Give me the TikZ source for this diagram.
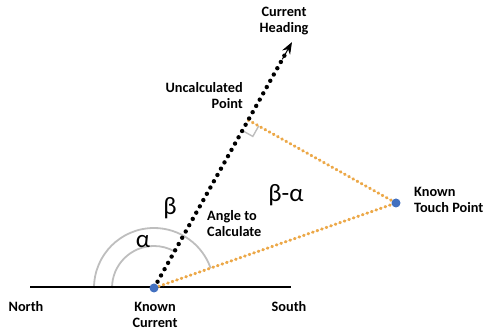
\documentclass[tikz,border=0pt]{standalone}
\usepackage{fontspec}
\setmainfont{Carlito}
\usepackage{tikz}
\usetikzlibrary{arrows.meta,positioning,calc}
\usepackage{xcolor}
\definecolor{dotorange}{RGB}{236,168,72}
\definecolor{ptblue}{RGB}{66,112,192}
\definecolor{arcgray}{RGB}{190,190,190}
\tikzset{
  lbl/.style     = {font=\fontsize{14.3}{16}\selectfont\bfseries, align=center, inner sep=1pt},
  greek/.style   = {font=\fontsize{25}{28}\selectfont, inner sep=0pt},
  hdline/.style  = {line width=4.4pt, line cap=round, dash pattern=on 0pt off 7.2pt},
  tchline/.style = {dotorange, line width=3pt, line cap=round, dash pattern=on 0.8pt off 4pt},
  arcline/.style = {arcgray, line width=1.8pt},
  ptdot/.style   = {fill=ptblue, circle, inner sep=0pt, minimum size=9pt},
}

\begin{document}
\begin{tikzpicture}[x=1pt, y=1pt]
\useasboundingbox (0,0) rectangle (483,336);
% ---------------- points ----------------
\coordinate (cur) at (154,48);
\coordinate (hd)  at ($(cur)+(60.7:282)$);
\coordinate (tp)  at (396,133);
\coordinate (up)  at ($(cur)!(tp)!(hd)$);
\coordinate (nw)  at (30,49);
\coordinate (se)  at (291,49);
% ---------------- angle arcs ----------------
\draw[arcline] ($(cur)+(-60,0)$) arc[start angle=180, end angle=19.4, radius=60];
\draw[arcline] ($(cur)+(-42,0)$) arc[start angle=180, end angle=60.7, radius=42];
% right angle mark
\draw[arcline, line width=1.4pt] ($(up)!12pt!(cur)$) -- ($(up)!12pt!(cur)!12pt!90:(cur)$)
   -- ($(up)!12pt!(tp)$);
% ---------------- lines ----------------
\draw[line width=2.8pt] (nw) -- (se);
\draw[tchline] (cur) -- (tp);
\draw[tchline] (up) -- (tp);
\draw[hdline] (cur) -- ($(cur)!0.96!(hd)$);
\draw[-{Stealth[length=12pt,width=9pt]}, line width=1pt] ($(cur)!0.93!(hd)$) -- (hd);
\node[ptdot] at (cur) {};
\node[ptdot] at (tp) {};
% ---------------- labels ----------------
\node[lbl] (hdlbl) at (284,315) {Current\\Heading};
\node[lbl, align=right, anchor=east] (uplbl) at (244,240) {Uncalculated\\Point};
\node[lbl, align=left, anchor=west] (anglbl) at (206,112) {Angle to\\Calculate};
\node[lbl, align=left, anchor=west] (tplbl) at (413,136) {Known\\Touch Point};
\node[lbl] (curlbl) at (155,21) {Known\\Current};
\node[lbl] (nlbl) at (26,29) {North};
\node[lbl] (slbl) at (289,29) {South};
\node[greek] (alpha) at (143,94) {α};
\node[greek] (beta) at (170,128) {β};
\node[greek] (betaalpha) at (286,141) {β-α};
\end{tikzpicture}
\end{document}
